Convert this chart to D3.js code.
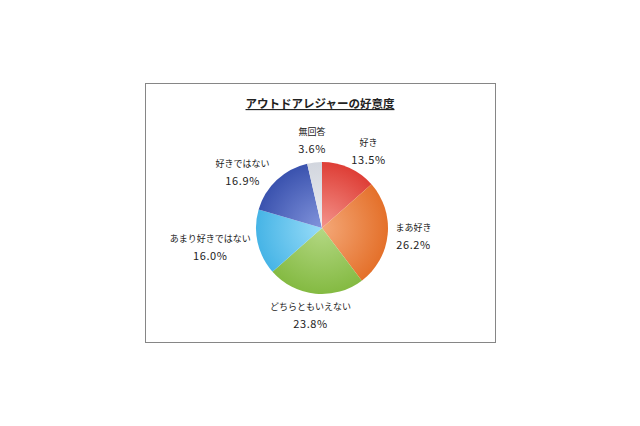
<!DOCTYPE html>
<html>
<head>
<meta charset="utf-8">
<script src="https://cdnjs.cloudflare.com/ajax/libs/d3/7.8.5/d3.min.js"></script>
<style>
  html, body { margin: 0; padding: 0; background: #fff; }
  svg { display: block; }
  text { font-family: "Noto Sans CJK JP", "Noto Sans", sans-serif; fill: #222; }
</style>
</head>
<body>
<div id="chart"></div>
<script>
// data (clockwise from 12 o'clock)
var categories = ["好き", "まあ好き", "どちらともいえない", "あまり好きではない", "好きではない", "無回答"];
var values = [13.5, 26.2, 23.8, 16.0, 16.9, 3.6];
var title = "アウトドアレジャーの好意度";

// colours: light centre -> darker rim
var lightColors = ["#f4948c", "#f4a878", "#b4d884", "#98dcf8", "#8294dc", "#eceef2"];
var darkColors  = ["#de3e36", "#e4702a", "#84ba42", "#46b4e6", "#3a52ae", "#d2d6de"];

var width = 640, height = 426;
var cx = 322, cy = 228, radius = 66;

var svg = d3.select("#chart")
  .append("svg")
  .attr("width", width)
  .attr("height", height);

// chart frame
svg.append("rect")
  .attr("x", 145.5)
  .attr("y", 83.5)
  .attr("width", 350)
  .attr("height", 259)
  .attr("fill", "#fff")
  .attr("stroke", "#868686")
  .attr("stroke-width", 1);

// title
var t = svg.append("text")
  .attr("x", 320)
  .attr("y", 108)
  .attr("text-anchor", "middle")
  .attr("font-size", 11.5)
  .attr("font-weight", "bold")
  .attr("text-decoration", "underline")
  .text(title);

var defs = svg.append("defs");
lightColors.forEach(function(c, i) {
  var g = defs.append("radialGradient")
    .attr("id", "grad" + i)
    .attr("gradientUnits", "userSpaceOnUse")
    .attr("cx", 0).attr("cy", 0).attr("r", radius);
  g.append("stop").attr("offset", "0%").attr("stop-color", c);
  g.append("stop").attr("offset", "100%").attr("stop-color", darkColors[i]);
});

var data = categories.map(function(c, i) { return { name: c, value: values[i] }; });

var pie = d3.pie()
  .value(function(d) { return d.value; })
  .sort(null);

var arc = d3.arc()
  .innerRadius(0)
  .outerRadius(radius);

var g = svg.append("g")
  .attr("transform", "translate(" + cx + "," + cy + ")");

var arcs = pie(data);

g.selectAll("path")
  .data(arcs)
  .enter()
  .append("path")
  .attr("d", arc)
  .attr("fill", function(d, i) { return "url(#grad" + i + ")"; });

// labels, outside end
var fmt = d3.format(".1f");
var labelR = 70;
var nudge = [[9, 4], [0, 0], [0, 0], [0, 0], [-10, 8], [0, 0]];

var labels = g.selectAll("g.lbl")
  .data(arcs)
  .enter()
  .append("g")
  .attr("class", "lbl");

labels.append("text")
  .attr("text-anchor", "middle")
  .attr("y", -5.5)
  .attr("font-size", 9)
  .text(function(d) { return d.data.name; });

labels.append("text")
  .attr("text-anchor", "middle")
  .attr("y", 12.5)
  .attr("font-size", 11)
  .attr("letter-spacing", 0.6)
  .text(function(d) { return fmt(d.data.value) + "%"; });

labels.attr("transform", function(d, i) {
  var a = (d.startAngle + d.endAngle) / 2;
  var bb = this.getBBox();
  var s = Math.sin(a), c = -Math.cos(a);
  var x = labelR * s + (bb.width / 2 + 4) * s + nudge[i][0];
  var y = labelR * c + 18 * c + nudge[i][1];
  return "translate(" + x + "," + y + ")";
});
</script>
</body>
</html>
